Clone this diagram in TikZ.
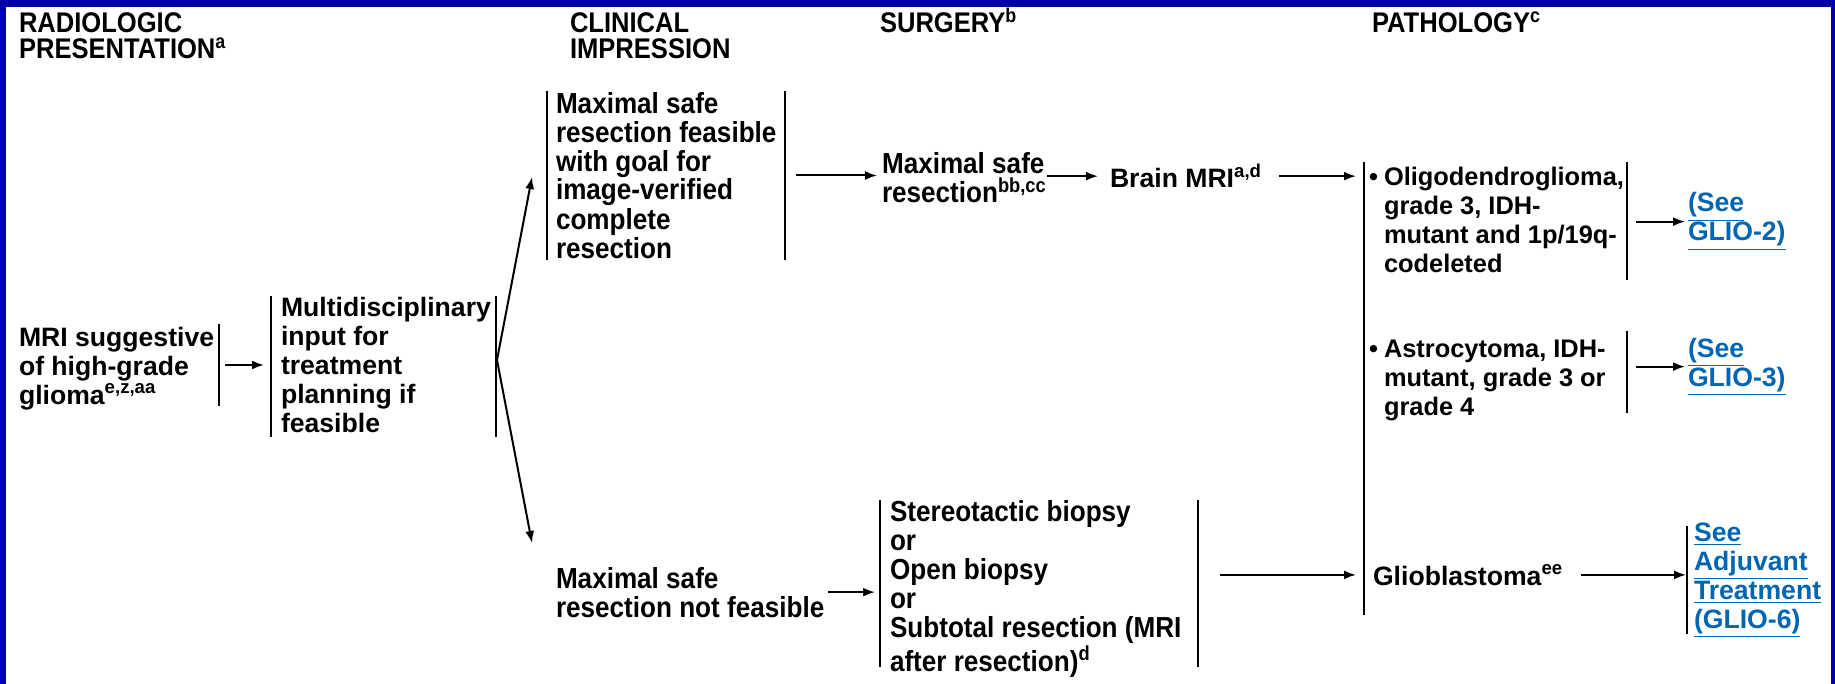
\documentclass[tikz,border=0pt]{standalone}
\usepackage{fontspec}
\setmainfont{Liberation Sans}
\newfontfamily\narrowf{Liberation Sans}[FakeStretch=0.9]
\usetikzlibrary{arrows.meta}
\definecolor{frameblue}{RGB}{0,0,165}
\definecolor{linkblue}{RGB}{0,102,179}
\tikzset{
  txt/.style={inner sep=0pt, outer sep=0pt, anchor=base west, align=left,
    font=\fontsize{13.3}{14.5}\selectfont\bfseries},
  stxt/.style={txt, font=\fontsize{12.7}{14.5}\selectfont\bfseries},
  ntxt/.style={txt, font=\narrowf\fontsize{14.5}{14.5}\selectfont\bfseries},
  hdr/.style={txt, font=\narrowf\fontsize{14.2}{13}\selectfont\bfseries},
  lnk/.style={txt, text=linkblue},
  frm/.style={inner sep=0pt, outer sep=0pt, draw=none},
  bar/.style={line width=1.25pt},
  arr/.style={line width=1pt, -{Latex[length=6pt,width=4.5pt]}},
}
\begin{document}
\begin{tikzpicture}[x=0.5pt,y=-0.5pt]
\fill[white] (0,0) rectangle (1835,684);
\useasboundingbox (0,0) rectangle (1835,684);
\fill[frameblue] (0,0) rectangle (1835,7);
\fill[frameblue] (0,0) rectangle (6,684);
\fill[frameblue] (1831,0) rectangle (1835,684);

% headers (anchor = baseline of last line)
\node[hdr] (h1) at (19,59) {RADIOLOGIC\\PRESENTATION\textsuperscript{a}};
\node[hdr] (h2) at (570,59) {CLINICAL\\IMPRESSION};
\node[hdr] (h3) at (880,33) {SURGERY\textsuperscript{b}};
\node[hdr] (h4) at (1372,33) {PATHOLOGY\textsuperscript{c}};

% frames (bar extents)
\node[frm, minimum width=103pt, minimum height=41pt] (mriF) at (116,365) {};
\node[frm, minimum width=112.5pt, minimum height=70.5pt] (multiF) at (383.5,366.5) {};
\node[frm, minimum width=119pt, minimum height=84.5pt] (upF) at (666,175.5) {};
\node[frm, minimum width=0pt, minimum height=226.5pt] (pathF) at (1364,388.5) {};
\node[frm, minimum width=131.5pt, minimum height=59pt] (oligoF) at (1495.5,221) {};
\node[frm, minimum width=131.5pt, minimum height=41pt] (astroF) at (1495.5,372) {};
\node[frm, minimum width=159pt, minimum height=83.5pt] (bioF) at (1039,583.5) {};
\node[frm, minimum width=0pt, minimum height=54pt] (adjF) at (1687,580) {};

% bars
\draw[bar] (mriF.north east) -- (mriF.south east);
\draw[bar] (multiF.north west) -- (multiF.south west);
\draw[bar] (multiF.north east) -- (multiF.south east);
\draw[bar] (upF.north west) -- (upF.south west);
\draw[bar] (upF.north east) -- (upF.south east);
\draw[bar] (pathF.north) -- (pathF.south);
\draw[bar] (oligoF.north east) -- (oligoF.south east);
\draw[bar] (astroF.north east) -- (astroF.south east);
\draw[bar] (bioF.north west) -- (bioF.south west);
\draw[bar] (bioF.north east) -- (bioF.south east);
\draw[bar] (adjF.north) -- (adjF.south);

% texts (anchor = baseline of last line)
\node[txt] (mriT) at (19,404) {MRI suggestive\\of high-grade\\glioma\textsuperscript{e,z,aa}};
\node[txt] (multiT) at (281,432) {Multidisciplinary\\input for\\treatment\\planning if\\feasible};
\node[ntxt] (upT) at (556,258) {Maximal safe\\resection feasible\\with goal for\\image-verified\\complete\\resection};
\node[ntxt] (msrT) at (882,203) {Maximal safe\\resection\textsuperscript{bb,cc}};
\node[txt] (brainT) at (1110,188) {Brain MRI\textsuperscript{a,d}};
\node[stxt] (oligoT) at (1384,272) {\llap{\textbullet\hspace{3pt}}Oligodendroglioma,\\grade 3, IDH-\\mutant and 1p/19q-\\codeleted};
\node[lnk] (glio2) at (1688,241) {\underline{(See}\\\underline{GLIO-2)}};
\node[stxt] (astroT) at (1384,415) {\llap{\textbullet\hspace{3pt}}Astrocytoma, IDH-\\mutant, grade 3 or\\grade 4};
\node[lnk] (glio3) at (1688,386) {\underline{(See}\\\underline{GLIO-3)}};
\node[ntxt] (notT) at (556,617) {Maximal safe\\resection not feasible};
\node[ntxt] (bioT) at (890,671) {Stereotactic biopsy\\or\\Open biopsy\\or\\Subtotal resection (MRI\\after resection)\textsuperscript{d}};
\node[txt] (glioT) at (1373,585) {Glioblastoma\textsuperscript{ee}};
\node[lnk] (adjT) at (1694,628) {\underline{See}\\\underline{Adjuvant}\\\underline{Treatment}\\\underline{(GLIO-6)}};

% connectors
\coordinate (branch) at (497,360);
\coordinate (uptip) at (532,177);
\coordinate (lowtip) at (532,543);
\draw[arr, shorten <=3pt, shorten >=3.5pt] (mriF.east) -- (mriF.east -| multiF.west);
\draw[arr] (branch) -- (uptip);
\draw[arr] (branch) -- (lowtip);
\draw[arr, shorten <=5.5pt, shorten >=2.5pt] (upF.east) -- (upF.east -| msrT.west);
\draw[arr, shorten <=0pt, shorten >=6pt] (brainT.west -| msrT.east) -- (brainT.west);
\draw[arr, shorten <=8.5pt, shorten >=4pt] (brainT.east) -- (brainT.east -| pathF.west);
\draw[arr, shorten <=4.5pt, shorten >=1.5pt] (oligoF.east |- glio2.west) -- (glio2.west);
\draw[arr, shorten <=4.5pt, shorten >=1.5pt] (astroF.east |- glio3.west) -- (glio3.west);
\draw[arr, shorten <=2pt, shorten >=2.5pt] (notT.east) -- (notT.east -| bioF.west);
\draw[arr, shorten <=11pt, shorten >=4pt] (bioF.east |- glioT.west) -- (pathF.west |- glioT.west);
\draw[arr, shorten <=9pt, shorten >=0.5pt] (glioT.east) -- (glioT.east -| adjF.west);
\end{tikzpicture}
\end{document}
